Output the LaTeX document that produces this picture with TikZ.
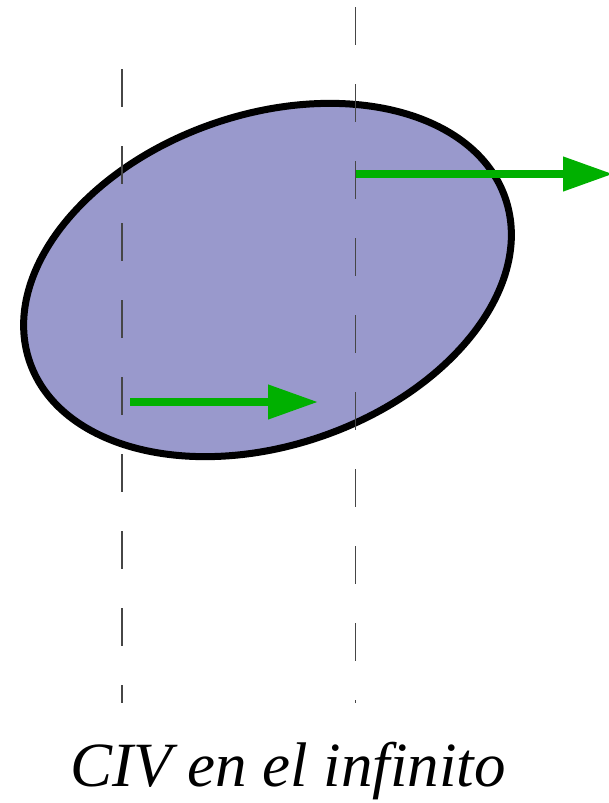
\documentclass[tikz,border=0pt]{standalone}
\usepackage{fontspec}
\newfontfamily\labelfont{Liberation Serif}
\usetikzlibrary{arrows.meta,shapes.geometric}
\definecolor{bodyblue}{RGB}{153,153,204}
\definecolor{velgreen}{RGB}{0,176,0}
\definecolor{guidegray}{RGB}{70,70,70}

\begin{document}
\begin{tikzpicture}[x=1pt,y=-1pt,
    guide/.style={guidegray,line width=1.1pt,dash pattern=on 38pt off 39pt},
    velarrow/.style={velgreen,line width=7.5pt,-{Triangle[length=50pt,width=33pt]}}]
      \useasboundingbox (0,0) rectangle (609,803);
      % vertical guides
      \coordinate (gl top) at (122,69);  \coordinate (gl bot) at (122,703);
      \coordinate (gr top) at (355.5,7); \coordinate (gr bot) at (355.5,703);
      % rigid body
      \node[ellipse,draw=black,line width=7pt,fill=bodyblue,inner sep=0pt,
            minimum width=503pt,minimum height=331pt,rotate=19] (body) at (267.5,280) {};
      \draw[guide] (gl top) -- (gl bot);
      \draw[guide] (gr top) -- (gr bot);
      % velocities
      \coordinate (va) at (130,402);   \coordinate (vb) at (318,402);
      \coordinate (vc) at (355.5,174); \coordinate (vd) at (613,174);
      \draw[velarrow] (va) -- (vb);
      \draw[velarrow] (vc) -- (vd);
      \node[anchor=base,inner sep=0pt,font=\labelfont\itshape\fontsize{63}{75}\selectfont] (title) at (288,786) {CIV en el infinito};
    \end{tikzpicture}
\end{document}
